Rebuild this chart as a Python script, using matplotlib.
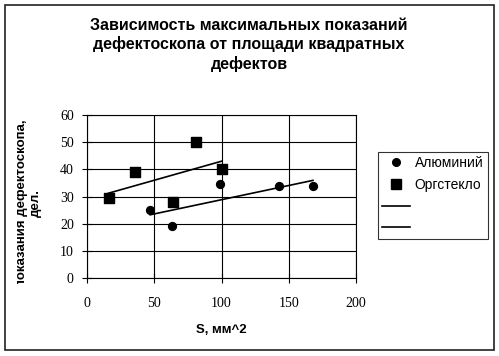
import numpy as np
import matplotlib
matplotlib.use("Agg")
import matplotlib.pyplot as plt
from matplotlib.lines import Line2D
from matplotlib.patches import Rectangle

# data
s_al = [47, 63, 99, 143, 168]
v_al = [25, 19, 34.5, 34, 33.7]
s_org = [16, 36, 64, 81, 100]
v_org = [29.5, 39, 28, 50, 40]

title = "Зависимость максимальных показаний\nдефектоскопа от площади квадратных\nдефектов"
xlab = "S, мм^2"
ylab = "Максимальные\nпоказания дефектоскопа,\nдел."

plt.rcParams['font.family'] = ['Liberation Sans', 'DejaVu Sans']

W, H = 499, 356
fig = plt.figure(figsize=(W / 100, H / 100), dpi=100)
fig.set_facecolor('white')

def fx(px):
    return px / W

def fy(py):
    return 1 - py / H

ax = fig.add_axes([fx(87), fy(278), fx(356) - fx(87), fy(115) - fy(278)])

ax.scatter(s_al, v_al, marker='o', s=32, color='black', zorder=3)
ax.scatter(s_org, v_org, marker='s', s=46, color='black', zorder=3)

# linear trend lines (Excel style), fitted to the points
for xs, ys in [(s_al, v_al), (s_org, v_org)]:
    k, b = np.polyfit(xs, ys, 1)
    xx = np.array([min(xs), max(xs)])
    ax.plot(xx, k * xx + b, color='black', lw=1.2, zorder=2)

ax.set_xlim(0, 200)
ax.set_ylim(0, 60)
ax.set_xticks([0, 50, 100, 150, 200])
ax.set_yticks(range(0, 61, 10))
ax.grid(True, color='black', lw=0.8)
ax.set_axisbelow(True)
for sp in ax.spines.values():
    sp.set_color('black')
    sp.set_linewidth(0.8)
ax.tick_params(direction='inout', length=7, width=0.8, colors='black', pad=6)
for lab in ax.get_xticklabels() + ax.get_yticklabels():
    lab.set_fontfamily('Liberation Serif')
    lab.set_fontsize(10)
ax.tick_params(axis='x', pad=10)

fig.text(fx(249), fy(18), title, ha='center', va='top', fontsize=11.5,
         fontweight='bold', linespacing=1.25)
fig.text(fx(221), fy(330), xlab, ha='center', va='center', fontsize=9.5,
         fontweight='bold')

# y label is wider than the chart allows, so it is cut like in the original
yl = fig.text(fx(22), fy(203), ylab, ha='center', va='center', rotation=90,
              multialignment='center', fontsize=9.5, fontweight='bold',
              linespacing=1.2)
clip = Rectangle((fx(17), fy(284)), 1, fy(121) - fy(284), transform=fig.transFigure,
                 fill=False, visible=False)
fig.add_artist(clip)
yl.set_clip_path(clip)

handles = [Line2D([], [], marker='o', color='black', ls='none', markersize=5.5),
           Line2D([], [], marker='s', color='black', ls='none', markersize=6.5),
           Line2D([], [], color='black', lw=1.2),
           Line2D([], [], color='black', lw=1.2)]
labels = ["Алюминий", "Оргстекло", "", ""]
leg = fig.legend(handles, labels, loc='upper left',
                 bbox_to_anchor=(fx(378), fy(152)), fontsize=10,
                 frameon=True, fancybox=False, edgecolor='black',
                 handlelength=2.0, handletextpad=0.35, labelspacing=0.55,
                 borderpad=0.3, borderaxespad=0)
leg.get_frame().set_linewidth(0.8)

fig.add_artist(Rectangle((fx(5), fy(350)), fx(494) - fx(5), fy(5) - fy(350),
                         transform=fig.transFigure, fill=False,
                         edgecolor='#222222', lw=1.2))

fig.savefig('out.png', dpi=100)
